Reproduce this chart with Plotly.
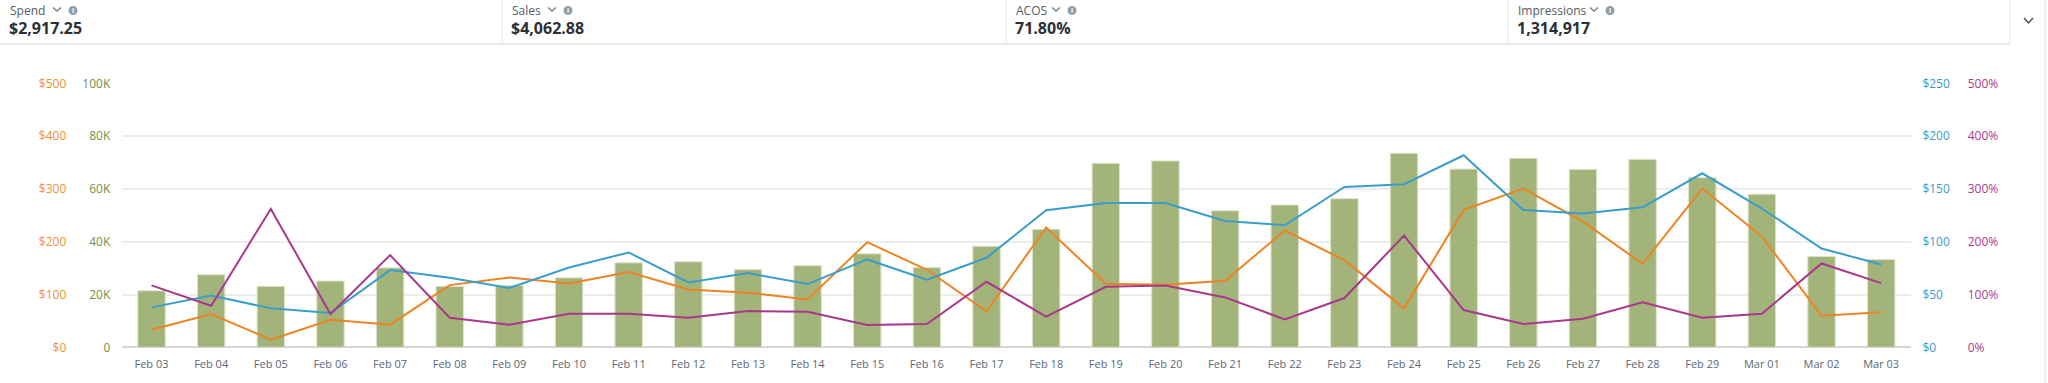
import plotly.graph_objects as go

W, H = 2048, 383

dates = ["Feb 03", "Feb 04", "Feb 05", "Feb 06", "Feb 07", "Feb 08", "Feb 09", "Feb 10",
         "Feb 11", "Feb 12", "Feb 13", "Feb 14", "Feb 15", "Feb 16", "Feb 17", "Feb 18",
         "Feb 19", "Feb 20", "Feb 21", "Feb 22", "Feb 23", "Feb 24", "Feb 25", "Feb 26",
         "Feb 27", "Feb 28", "Feb 29", "Mar 01", "Mar 02", "Mar 03"]

impressions = [21400, 27500, 23100, 25100, 30100, 23100, 23400, 26300, 32000, 32400,
               29500, 30900, 35400, 30200, 38300, 44700, 69700, 70600, 51700, 53900,
               56300, 73500, 67500, 71600, 67400, 71200, 64300, 58000, 34400, 33300]

sales = [33.4, 63.0, 14.5, 52.3, 42.8, 117.8, 132.3, 121.0, 142.4, 109.6,
         103.3, 90.7, 199.1, 146.8, 68.1, 226.8, 120.4, 118.5, 126.0, 221.2,
         165.1, 73.7, 260.2, 300.6, 238.0, 158.2, 300.6, 209.8, 59.9, 66.2]

spend = [37.8, 49.1, 36.9, 32.5, 73.1, 65.8, 56.1, 75.6, 89.8, 61.4,
         70.3, 59.9, 83.2, 64.0, 84.8, 129.8, 136.7, 136.7, 119.7, 115.6,
         151.9, 154.4, 181.8, 130.1, 126.7, 132.6, 164.8, 131.4, 93.6, 78.4]

acos = [117.2, 78.8, 262.1, 63.0, 174.5, 56.1, 42.8, 63.6, 63.6, 56.1,
        68.7, 67.4, 42.2, 44.1, 124.1, 58.0, 114.7, 117.2, 94.5, 52.9,
        93.3, 211.7, 70.6, 44.1, 54.2, 85.1, 56.1, 63.6, 158.8, 121.6]

metric_labels = ["Spend", "Sales", "ACOS", "Impressions"]
metric_values = ["$2,917.25", "$4,062.88", "71.80%", "1,314,917"]

imp_ticks = [0, 20000, 40000, 60000, 80000, 100000]
imp_ticktext = ["0", "20K", "40K", "60K", "80K", "100K"]
sales_ticks = [0, 100, 200, 300, 400, 500]
sales_ticktext = ["$0", "$100", "$200", "$300", "$400", "$500"]
spend_ticks = [0, 50, 100, 150, 200, 250]
spend_ticktext = ["$0", "$50", "$100", "$150", "$200", "$250"]
acos_ticks = [0, 100, 200, 300, 400, 500]
acos_ticktext = ["0%", "100%", "200%", "300%", "400%", "500%"]

FONT = "Open Sans"
C_BAR = "#a3b47a"
C_ORANGE = "#ec8423"
C_BLUE = "#3a9ecb"
C_MAG = "#a8388c"


def px(x):
    return x / W


def py(y):
    return 1 - y / H


fig = go.Figure()
fig.add_trace(go.Bar(x=dates, y=impressions, width=0.46, marker_color=C_BAR,
                     marker_line=dict(color="#dde4cc", width=1), yaxis="y", name="Impressions"))
fig.add_trace(go.Scatter(x=dates, y=sales, mode="lines", line=dict(color=C_ORANGE, width=2),
                         yaxis="y2", name="Sales"))
fig.add_trace(go.Scatter(x=dates, y=spend, mode="lines", line=dict(color=C_BLUE, width=2),
                         yaxis="y3", name="Spend"))
fig.add_trace(go.Scatter(x=dates, y=acos, mode="lines", line=dict(color=C_MAG, width=2),
                         yaxis="y4", name="ACOS"))

x0p, x1p = 121.7, 1911
ydom = [py(347.3), py(83.3)]
common_tick = dict(ticks="outside", ticklen=8, tickcolor="rgba(0,0,0,0)", showline=False,
                   tickmode="array")

fig.update_layout(
    width=W, height=H, autosize=False,
    margin=dict(l=0, r=0, t=0, b=0, pad=0, autoexpand=False),
    paper_bgcolor="white", plot_bgcolor="white",
    showlegend=False,
    font=dict(family=FONT, size=11),
    xaxis=dict(domain=[px(x0p), px(x1p)], type="category", showgrid=False,
               tickfont=dict(size=11, color="#5b6776"), ticks="outside", ticklen=6,
               tickcolor="rgba(0,0,0,0)", showline=False, zeroline=False),
    yaxis=dict(domain=ydom, range=[0, 100000], tickvals=imp_ticks, ticktext=imp_ticktext,
               tickfont=dict(size=12, color="#758f3f"), showgrid=True, gridcolor="#ececec",
               gridwidth=2, zeroline=True, zerolinecolor="#d6d6d6", zerolinewidth=2,
               **common_tick),
    yaxis2=dict(overlaying="y", anchor="free", side="left", position=px(66 + 10.7),
                range=[0, 500], tickvals=sales_ticks, ticktext=sales_ticktext,
                tickfont=dict(size=12, color="#f0902e"), showgrid=False, zeroline=False,
                **common_tick),
    yaxis3=dict(overlaying="y", anchor="x", side="right", range=[0, 250],
                tickvals=spend_ticks, ticktext=spend_ticktext,
                tickfont=dict(size=12, color="#3a9bcc"), showgrid=False, zeroline=False,
                **common_tick),
    yaxis4=dict(overlaying="y", anchor="free", side="right", position=px(1967 - 10.7),
                range=[0, 500], tickvals=acos_ticks, ticktext=acos_ticktext,
                tickfont=dict(size=12, color="#b0398f"), showgrid=False, zeroline=False,
                **common_tick),
)

shapes = []
annotations = []

# Header layout
cell_x = [0, 502, 1006, 1508]
label_widths = [34, 27, 27, 63]
for i, (lab, val) in enumerate(zip(metric_labels, metric_values)):
    lx = cell_x[i] + 8
    annotations.append(dict(xref="paper", yref="paper", x=px(lx), y=py(10), text=lab,
                            showarrow=False, xanchor="left", yanchor="middle",
                            font=dict(family=FONT, size=12, color="#555b63")))
    annotations.append(dict(xref="paper", yref="paper", x=px(lx - 1), y=py(28), text=f"<b>{val}</b>",
                            showarrow=False, xanchor="left", yanchor="middle",
                            font=dict(family=FONT, size=16, color="#2b3038")))
    cx = lx + label_widths[i] + 11
    shapes.append(dict(type="path", xref="paper", yref="paper",
                       path=f"M {px(cx)} {py(7.5)} L {px(cx + 4)} {py(11)} L {px(cx + 8)} {py(7.5)}",
                       line=dict(color="#7a8491", width=1.5)))
    ix = cx + 20
    shapes.append(dict(type="circle", xref="paper", yref="paper",
                       x0=px(ix - 4.5), x1=px(ix + 4.5), y0=py(15), y1=py(6),
                       fillcolor="#8e9cab", line=dict(width=0)))
    annotations.append(dict(xref="paper", yref="paper", x=px(ix), y=py(10.5), text="<b>i</b>",
                            showarrow=False, xanchor="center", yanchor="middle",
                            font=dict(family=FONT, size=7, color="white")))
    if i > 0:
        shapes.append(dict(type="line", xref="paper", yref="paper",
                           x0=px(cell_x[i]), x1=px(cell_x[i]), y0=py(0), y1=py(44),
                           line=dict(color="#e6e6e6", width=1)))

# right border of header box
shapes.append(dict(type="line", xref="paper", yref="paper", x0=px(2010), x1=px(2010),
                   y0=py(0), y1=py(44), line=dict(color="#e6e6e6", width=1)))
# header bottom border
shapes.append(dict(type="line", xref="paper", yref="paper", x0=px(0), x1=px(2010),
                   y0=py(44), y1=py(44), line=dict(color="#ececec", width=2)))
# right chevron
shapes.append(dict(type="path", xref="paper", yref="paper",
                   path=f"M {px(2024)} {py(18)} L {px(2028.5)} {py(23)} L {px(2033)} {py(18)}",
                   line=dict(color="#4a4f57", width=1.5)))
# far right vertical line
shapes.append(dict(type="line", xref="paper", yref="paper", x0=px(2045), x1=px(2045),
                   y0=py(0), y1=py(383), line=dict(color="#e2e2e2", width=1)))

fig.update_layout(shapes=shapes, annotations=annotations)

fig.write_html("out.html")
